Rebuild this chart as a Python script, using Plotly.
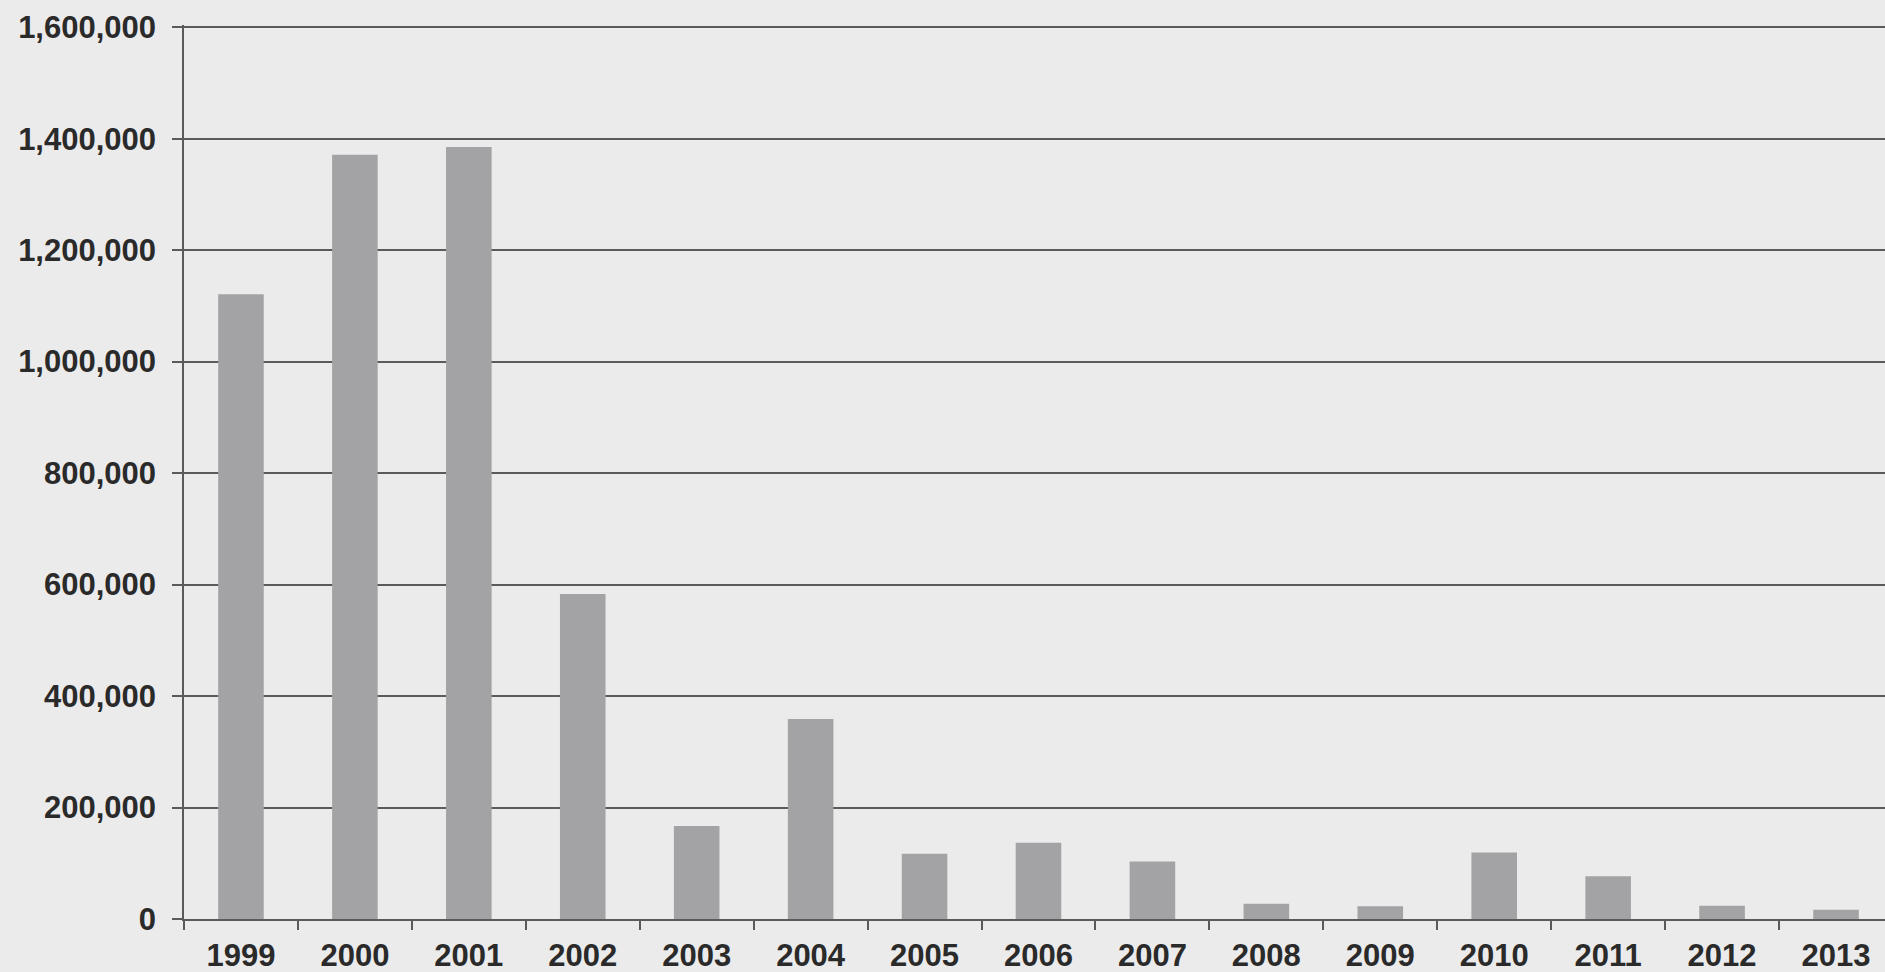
import plotly.graph_objects as go

years = ["1999", "2000", "2001", "2002", "2003", "2004", "2005", "2006",
         "2007", "2008", "2009", "2010", "2011", "2012", "2013"]
values = [1121000, 1371000, 1385000, 583000, 167000, 359000, 117000, 137000,
          103000, 27500, 22800, 119500, 76600, 23900, 16700]

y_ticks = [0, 200000, 400000, 600000, 800000, 1000000, 1200000, 1400000, 1600000]
y_tick_text = [f"{v:,}" for v in y_ticks]

bg = "#ebebeb"
bar_color = "#a3a3a5"
line_color = "#5a5a5a"
font = dict(family="Liberation Sans, Arial, sans-serif", size=31, color="#2a2a2a")

fig = go.Figure(go.Bar(
    x=years, y=values, marker=dict(color=bar_color, line=dict(width=0)),
    width=0.4,
))

fig.update_layout(
    width=1885, height=972,
    margin=dict(l=184, r=0, t=25, b=53, pad=0),
    paper_bgcolor=bg, plot_bgcolor=bg,
    font=font, showlegend=False, bargap=0.6,
    xaxis=dict(
        type="category", range=[-0.5, 14.43], automargin=False,
        showgrid=False, showline=True, linecolor=line_color, linewidth=2,
        ticks="outside", tickson="boundaries", ticklen=9, tickwidth=1.5,
        tickcolor=line_color,
        tickfont=dict(family="Liberation Sans, Arial, sans-serif", size=31,
                      color="#2a2a2a", weight="bold"),
        ticklabelstandoff=8,
    ),
    yaxis=dict(
        range=[0, 1604000], tickvals=y_ticks, ticktext=y_tick_text,
        automargin=False,
        showgrid=True, gridcolor=line_color, gridwidth=1.5,
        showline=True, linecolor=line_color, linewidth=1.5,
        ticks="outside", ticklen=10, tickwidth=1.5, tickcolor=line_color,
        zeroline=False,
        tickfont=dict(family="Liberation Sans, Arial, sans-serif", size=31,
                      color="#2a2a2a", weight="bold"),
        ticklabelstandoff=10,
    ),
)

fig.write_html("out.html")
